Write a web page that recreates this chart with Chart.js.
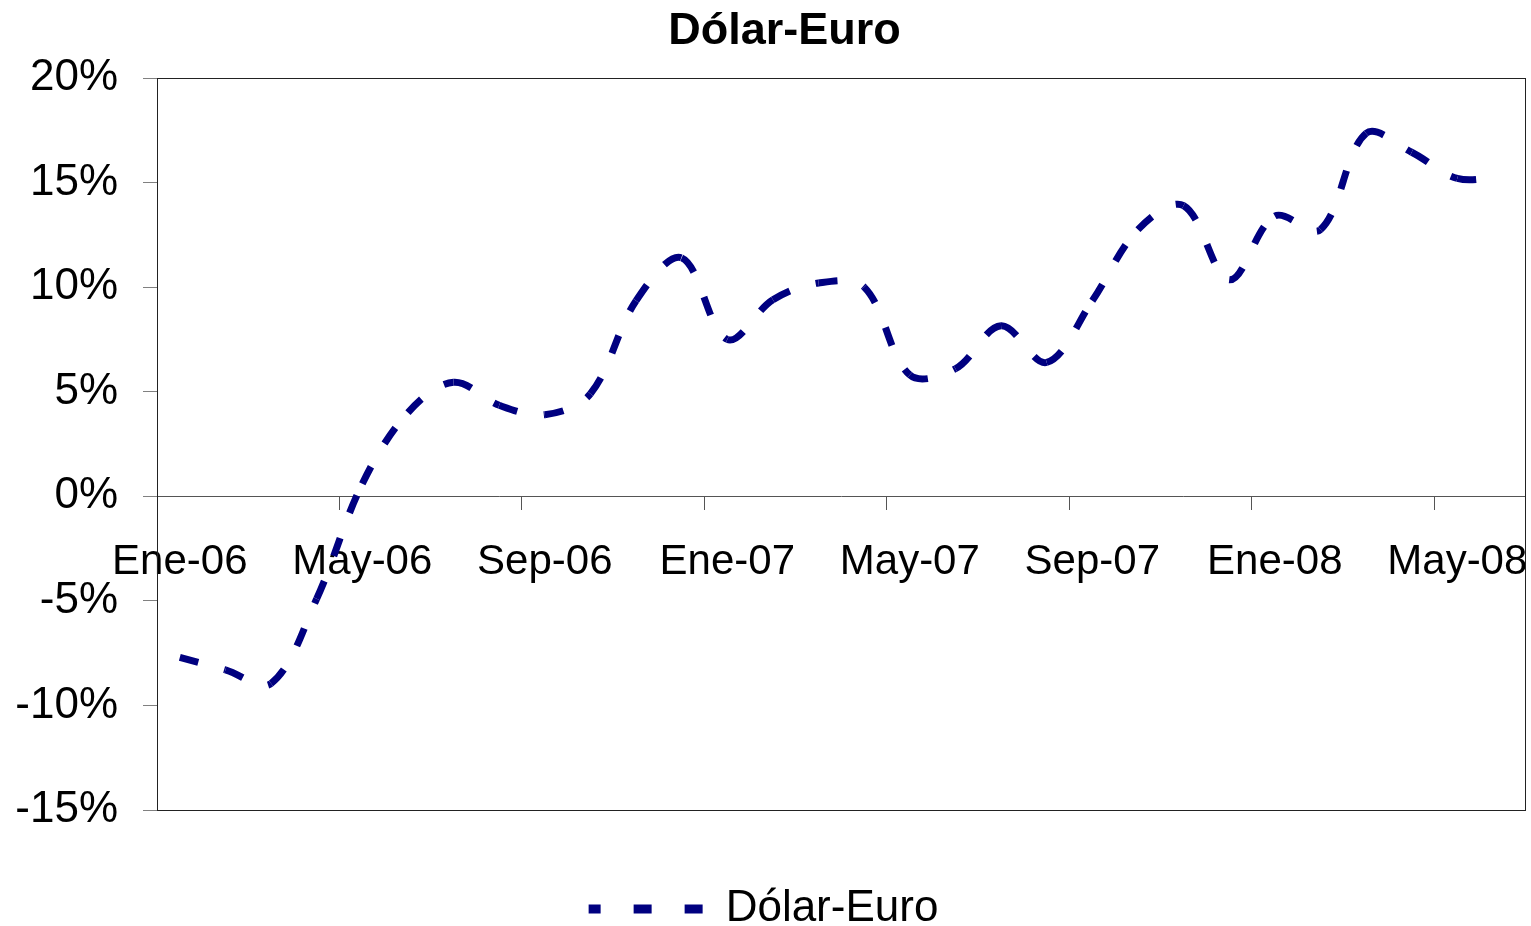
<!DOCTYPE html>
<html>
<head>
<meta charset="utf-8">
<title>Dólar-Euro</title>
<script src="https://cdn.jsdelivr.net/npm/chart.js@4.4.1/dist/chart.umd.min.js"></script>
<style>
  html, body { margin: 0; padding: 0; background: #fff; }
  #wrap { width: 1531px; height: 926px; position: relative; }
</style>
</head>
<body>
<div id="wrap"><canvas id="myChart"></canvas></div>
<script>
// meses (Ene-06 .. Jun-08)
var labels = ['Ene-06','Feb-06','Mar-06','Abr-06','May-06','Jun-06','Jul-06','Ago-06','Sep-06','Oct-06','Nov-06','Dic-06',
              'Ene-07','Feb-07','Mar-07','Abr-07','May-07','Jun-07','Jul-07','Ago-07','Sep-07','Oct-07','Nov-07','Dic-07',
              'Ene-08','Feb-08','Mar-08','Abr-08','May-08','Jun-08'];
// variacion en %
var dolarEuro = [-7.7, -8.3, -8.95, -4.9, 0.6, 4.0, 5.45, 4.35, 3.9, 4.9, 9.35, 11.4,
                 7.5, 9.4, 10.2, 10.0, 5.8, 6.1, 8.15, 6.4, 9.35, 12.75, 13.9, 10.35,
                 13.4, 12.75, 17.35, 16.45, 15.2, 15.3];
var yTicks = [-15, -10, -5, 0, 5, 10, 15, 20];

Chart.defaults.font.family = "'Liberation Sans', Arial, sans-serif";
Chart.defaults.color = '#000';

// marco del area de grafico
var frame = {
  id: 'frame',
  beforeDatasetsDraw: function(chart) {
    var a = chart.chartArea, c = chart.ctx;
    c.save();
    c.strokeStyle = '#222';
    c.lineWidth = 1;
    c.strokeRect(Math.round(a.left) + 0.5, Math.round(a.top) + 0.5, Math.round(a.right - a.left) - 1, Math.round(a.bottom - a.top));
    c.restore();
  }
};
// titulo un poco a la derecha como en el original
var titleShift = {
  id: 'titleShift',
  afterLayout: function(chart) {
    if (chart.titleBlock) chart.titleBlock.left += 42;
  }
};

var ctx = document.getElementById('myChart');
var myChart = new Chart(ctx, {
  type: 'line',
  data: {
    labels: labels,
    datasets: [{
      label: 'Dólar-Euro',
      data: dolarEuro,
      borderColor: '#000080',
      backgroundColor: '#000080',
      borderWidth: 7,
      borderDash: [19, 27],
      borderCapStyle: 'butt',
      tension: 0.35,
      pointRadius: 0,
      pointHoverRadius: 0,
      fill: false,
      // cada tramo empieza su propio trazo (como Excel)
      segment: {
        borderDashOffset: function(c) { return (c.p0DataIndex % 2) * 0.01; }
      }
    }]
  },
  options: {
    responsive: true,
    maintainAspectRatio: false,
    animation: false,
    layout: { padding: { left: 0, right: 4, top: 0, bottom: -15 } },
    plugins: {
      title: {
        display: true,
        text: 'Dólar-Euro',
        font: { size: 45, weight: 'bold' },
        color: '#000',
        padding: { top: 5, bottom: 19 }
      },
      legend: {
        position: 'bottom',
        labels: {
          usePointStyle: true,
          pointStyleWidth: 115,
          padding: 77,
          font: { size: 44 },
          color: '#000',
          generateLabels: function(chart) {
            var items = Chart.defaults.plugins.legend.labels.generateLabels(chart);
            items.forEach(function(it) {
              it.pointStyle = 'line';
              it.lineDash = [18, 33];
              it.lineDashOffset = 6;
              it.lineWidth = 9;
              it.strokeStyle = '#000080';
            });
            return items;
          }
        }
      },
      tooltip: { enabled: false }
    },
    scales: {
      x: {
        position: { y: 0 },
        offset: true,
        grid: {
          offset: true,
          drawOnChartArea: false,
          tickLength: 13,
          tickColor: function(c) { return (c.index > 0 && c.index % 4 === 0) ? '#555' : 'rgba(0,0,0,0)'; }
        },
        border: { display: true, color: '#555', width: 1 },
        ticks: {
          autoSkip: false,
          maxRotation: 0,
          padding: 28,
          font: { size: 42 },
          color: '#000',
          callback: function(v, i) { return i % 4 === 0 ? labels[i] : ''; }
        }
      },
      y: {
        min: -15,
        max: 20,
        afterFit: function(s) { s.width = 157; },
        afterBuildTicks: function(s) { s.ticks = yTicks.map(function(v) { return { value: v }; }); },
        grid: { drawOnChartArea: false, tickLength: 14, tickColor: '#808080' },
        border: { display: true, color: '#000', width: 1 },
        ticks: {
          padding: 25,
          font: { size: 44 },
          color: '#000',
          callback: function(v) { return v + '%'; }
        }
      }
    }
  },
  plugins: [frame, titleShift]
});
</script>
</body>
</html>
